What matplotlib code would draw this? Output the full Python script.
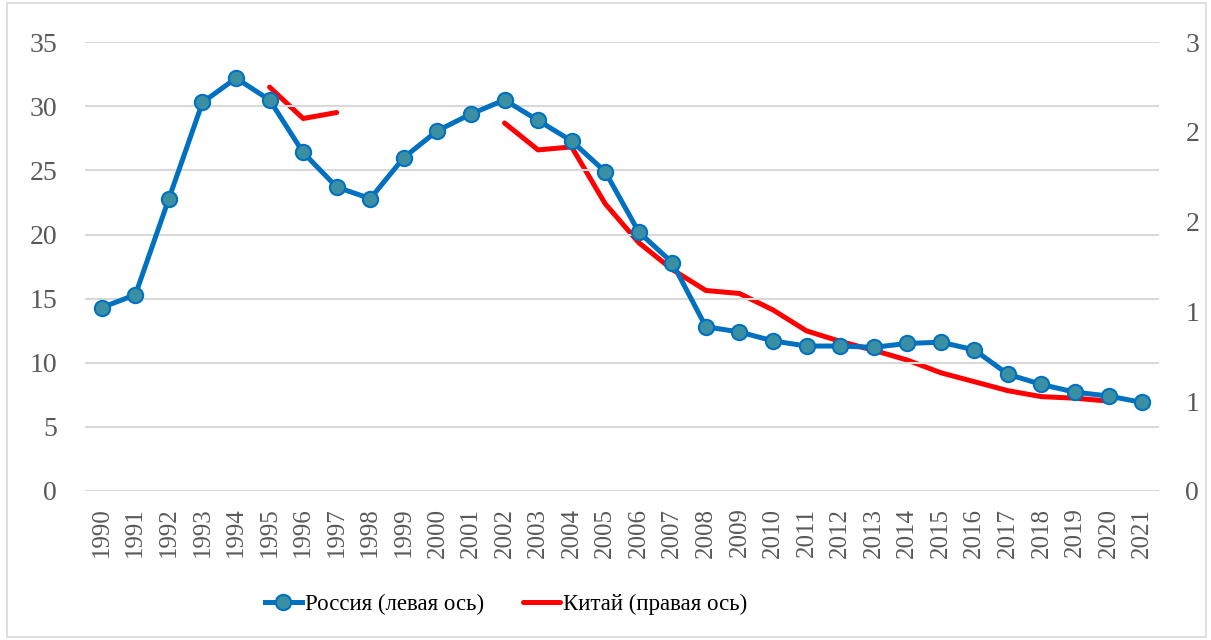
import numpy as np
import matplotlib.pyplot as plt
from matplotlib.patches import Rectangle

plt.rcParams['font.family'] = ['Liberation Serif', 'DejaVu Serif']

years = list(range(1990, 2022))
russia = [14.3, 15.3, 22.8, 30.3, 32.2, 30.5, 26.4, 23.7, 22.8, 26.0,
          28.1, 29.4, 30.5, 28.9, 27.3, 24.9, 20.2, 17.8, 12.8, 12.4,
          11.7, 11.3, 11.3, 11.2, 11.5, 11.6, 11.0, 9.1, 8.3, 7.7,
          7.4, 6.9]
china = [np.nan] * 5 + [2.70, 2.49, 2.53, np.nan, np.nan,
         np.nan, np.nan, 2.46, 2.28, 2.30, 1.92, 1.66, 1.48, 1.34, 1.32,
         1.21, 1.07, 1.00, 0.94, 0.875, 0.79, 0.73, 0.67, 0.63, 0.62,
         0.60, np.nan]

left_ticks = [0, 5, 10, 15, 20, 25, 30, 35]
right_ticks = [0, 0.6, 1.2, 1.8, 2.4, 3.0]

fig = plt.figure(figsize=(12.11, 6.40), dpi=100)
fig.patches.append(Rectangle((0.006, 0.004), 0.99, 0.992, transform=fig.transFigure,
                             fill=False, edgecolor='#d9d9d9', linewidth=1.2))
ax = fig.add_axes([0.0702, 0.233, 0.8868, 0.701])
ax2 = ax.twinx()

x = np.arange(len(years))
ax.plot(x, russia, color='#0070C0', linewidth=3.6, marker='o', markersize=11,
        markerfacecolor='#3A8FA3', markeredgecolor='#0070C0', markeredgewidth=1.5,
        label='Россия (левая ось)', zorder=3)
ax2.plot(x, china, color='#FF0000', linewidth=3.6, label='Китай (правая ось)',
         solid_capstyle='round', zorder=3)

ax.set_xlim(-0.5, len(years) - 0.5)
ax.set_ylim(0, 35)
ax2.set_ylim(0, 3)
ax.set_yticks(left_ticks)
ax2.set_yticks(right_ticks)
ax2.set_yticklabels(['%.0f' % v for v in right_ticks])
ax.set_xticks(x)
ax.set_xticklabels([str(y) for y in years], rotation=90)

ax.grid(axis='y', color='#d9d9d9', linewidth=1.5)
ax.set_axisbelow(True)
for a in (ax, ax2):
    for s in a.spines.values():
        s.set_visible(False)
    a.tick_params(length=0, colors='#595959', labelsize=20)
ax.tick_params(axis='x', labelsize=18, pad=12)
ax.tick_params(axis='y', pad=20)
ax2.tick_params(axis='y', pad=19)
ax.set_zorder(ax2.get_zorder() + 1)
ax.patch.set_visible(False)

h1, l1 = ax.get_legend_handles_labels()
h2, l2 = ax2.get_legend_handles_labels()
fig.legend(h1 + h2, l1 + l2, loc='center', bbox_to_anchor=(0.418, 0.055), ncol=2,
           frameon=False, fontsize=16.5, handlelength=1.6, columnspacing=1.7,
           handletextpad=0.15)

fig.savefig('out.png', dpi=100)
